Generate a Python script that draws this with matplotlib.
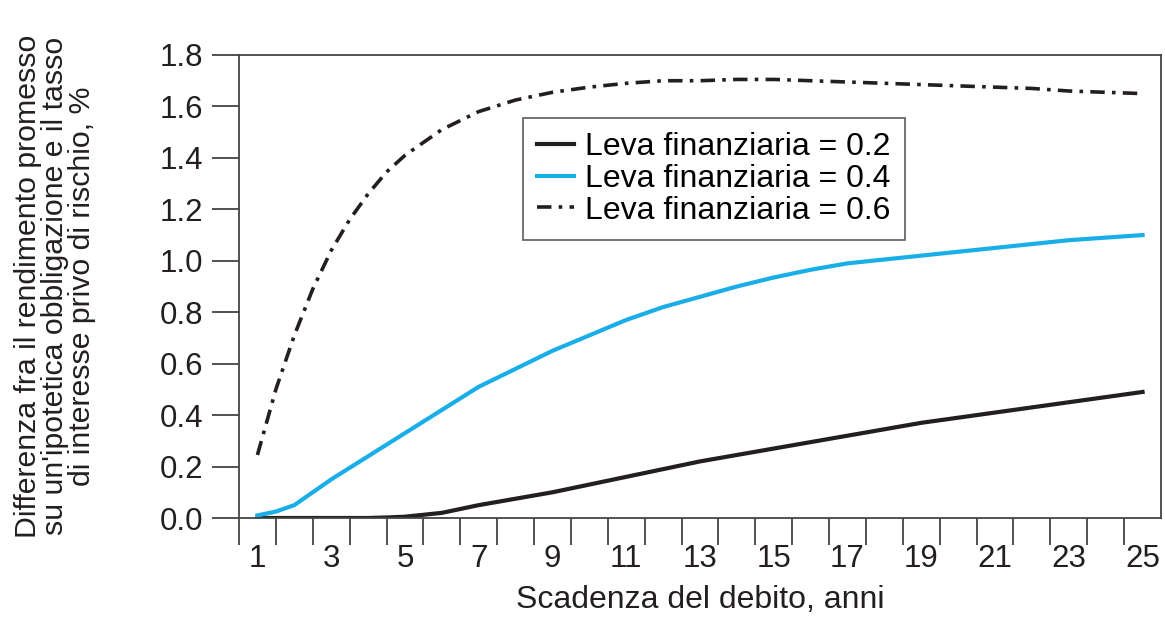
import matplotlib
matplotlib.use("Agg")
import matplotlib.pyplot as plt
from matplotlib.ticker import FixedLocator

plt.rcParams['font.family'] = ['Liberation Sans', 'DejaVu Sans']

# maturity (years) and spread (%)
anni = [1, 1.5, 2, 2.5, 3, 3.5, 4, 4.5, 5, 6, 7, 8, 9, 10, 11, 12, 13, 14, 15, 16, 17, 18, 19, 20, 21, 22, 23, 24, 25]
leva_02 = [0.0, 0.0, 0.0, 0.0, 0.0, 0.0, 0.0, 0.002, 0.005, 0.02, 0.05, 0.075, 0.10, 0.13, 0.16, 0.19, 0.22,
           0.245, 0.27, 0.295, 0.32, 0.345, 0.37, 0.39, 0.41, 0.43, 0.45, 0.47, 0.49]
leva_04 = [0.01, 0.025, 0.05, 0.10, 0.15, 0.195, 0.24, 0.285, 0.33, 0.42, 0.51, 0.58, 0.65, 0.71, 0.77, 0.82,
           0.86, 0.90, 0.935, 0.965, 0.99, 1.005, 1.02, 1.035, 1.05, 1.065, 1.08, 1.09, 1.10]
leva_06 = [0.245, 0.50, 0.71, 0.89, 1.04, 1.16, 1.26, 1.345, 1.41, 1.51, 1.58, 1.625, 1.655, 1.675, 1.69, 1.70,
           1.70, 1.705, 1.705, 1.70, 1.695, 1.69, 1.685, 1.68, 1.675, 1.67, 1.66, 1.655, 1.65]
etichette = ['Leva finanziaria = 0.2', 'Leva finanziaria = 0.4', 'Leva finanziaria = 0.6']

fig = plt.figure(figsize=(11.65, 6.17), dpi=100)
ax = fig.add_axes([239/1165, 1-518/617, (1161-239)/1165, (518-55)/617])

ax.plot(anni, leva_02, color='#231f20', lw=3, label=etichette[0])
ax.plot(anni, leva_04, color='#1aaee8', lw=3, label=etichette[1])
ax.plot(anni, leva_06, color='#231f20', lw=2.6, linestyle=(0, (4, 2, 1, 2)), label=etichette[2])

ax.set_xlim(0.5, 25.5)
ax.set_ylim(0, 1.8)

# odd years labelled, tick marks between years
ax.xaxis.set_major_locator(FixedLocator(list(range(1, 26, 2))))
ax.xaxis.set_minor_locator(FixedLocator([x + 0.5 for x in range(0, 25)]))
ax.tick_params(axis='x', which='major', length=0, pad=19, labelsize=22.5, colors='#231f20')
ax.tick_params(axis='x', which='minor', length=19.5, width=1.2, direction='out', color='#333333')
ax.set_yticks([0.0, 0.2, 0.4, 0.6, 0.8, 1.0, 1.2, 1.4, 1.6, 1.8])
ax.set_yticklabels(['%.1f' % v for v in ax.get_yticks()])
ax.tick_params(axis='y', which='major', length=19.5, width=1.2, pad=6, labelsize=22.5,
               colors='#231f20', color='#333333')

for s in ax.spines.values():
    s.set_linewidth(1.3)
    s.set_color('#444444')

ax.set_xlabel('Scadenza del debito, anni', fontsize=23, color='#231f20', labelpad=8)
fig.text(55/1165, 1-286/617,
         "Differenza fra il rendimento promesso\nsu un'ipotetica obbligazione e il tasso\ndi interesse privo di rischio, %",
         rotation=90, ha='center', va='center', fontsize=21.8, color='#231f20', linespacing=0.95)

leg = ax.legend(loc='upper left', bbox_to_anchor=(523/1165, 1-118/617), bbox_transform=fig.transFigure,
                fontsize=23, frameon=True, fancybox=False, handlelength=1.15, handletextpad=0.35,
                labelspacing=0.05, borderpad=0.45, borderaxespad=0)
leg.get_frame().set_edgecolor('#333333')
leg.get_frame().set_linewidth(1.2)

fig.savefig('out.png', dpi=100)
